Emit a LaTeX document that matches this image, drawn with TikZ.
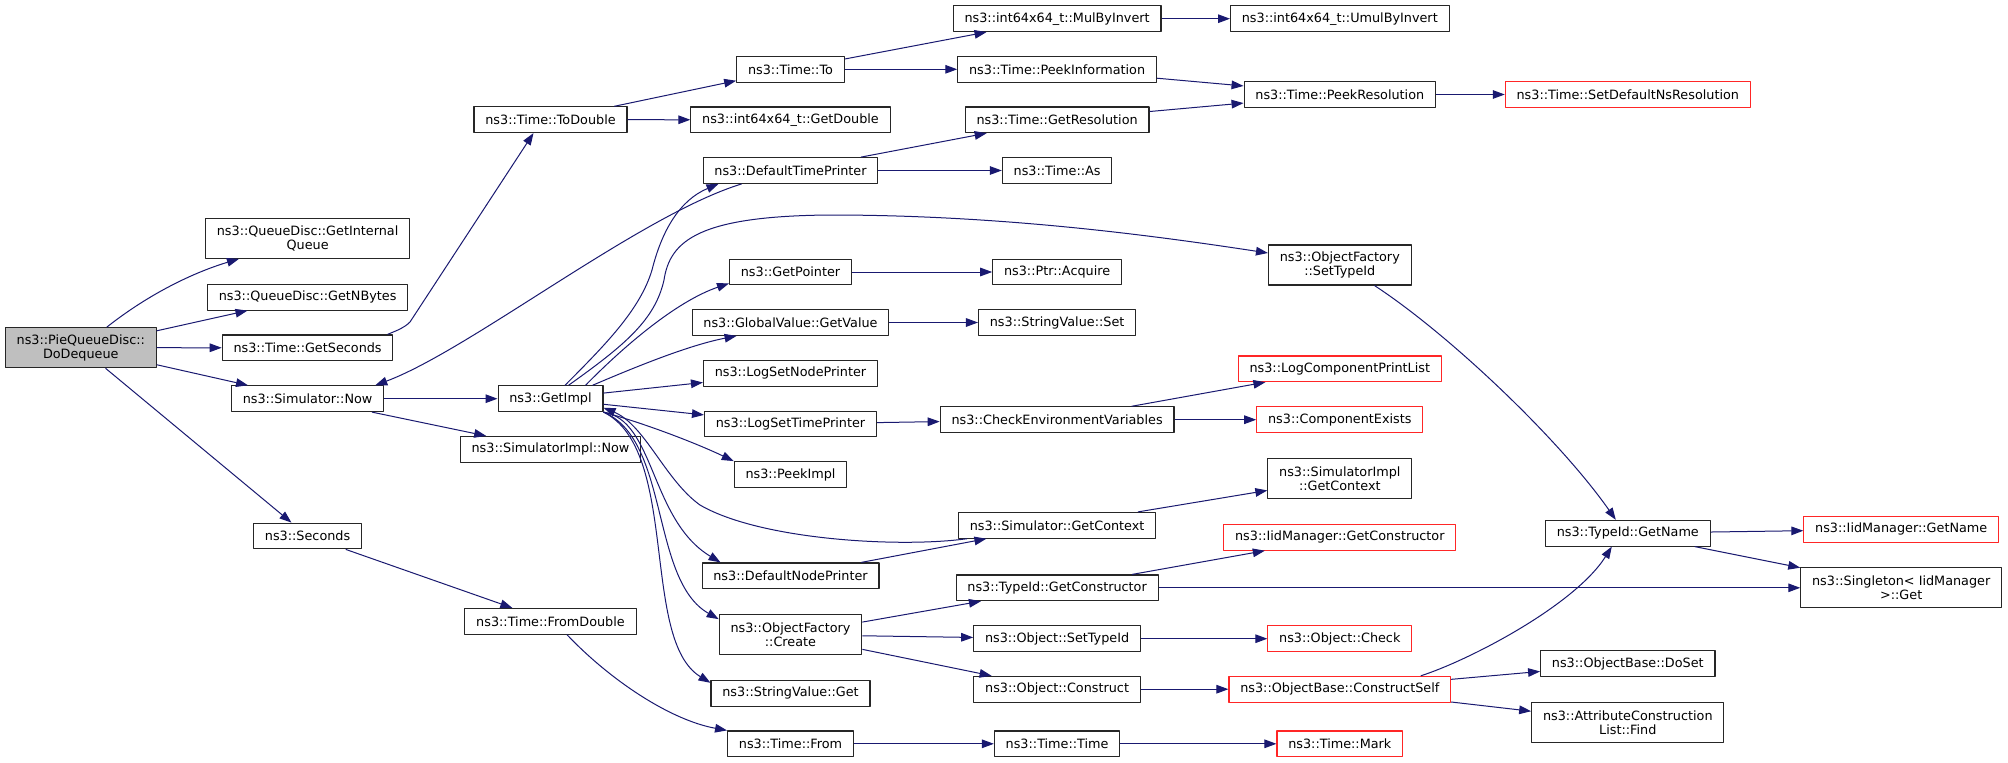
\documentclass[tikz,border=0pt]{standalone}
\usepackage{fontspec}
\setmainfont{DejaVu Sans}
\usetikzlibrary{arrows.meta}
\definecolor{callblue}{HTML}{191970}
\definecolor{truncred}{HTML}{FF2626}
\definecolor{rootgray}{HTML}{BFBFBF}

\begin{document}
\begin{tikzpicture}[
  x=1pt,
  y=-1pt,
  line join=round,
  fn/.style={draw=black!85,line width=1.1pt,fill=white,inner xsep=11.3pt,inner ysep=2pt,
    minimum height=25.7pt,align=center,font=\fontsize{12.8}{14}\selectfont},
  twoline/.style={minimum height=40pt},
  root/.style={fn,twoline,fill=rootgray},
  trunc/.style={fn,draw=truncred},
  call/.style={draw=callblue,line width=1pt,-{Triangle[length=12pt,width=8.6pt]}}
]
  \useasboundingbox[fill=white] (0,0) rectangle (2008,763);

  % Caller and first level.
  \node[root] (DoDequeue) at (80.8,347.7) {ns3::PieQueueDisc::\\DoDequeue};
  \node[fn,twoline] (GetInternalQueue) at (307.6,238.3) {ns3::QueueDisc::GetInternal\\Queue};
  \node[fn] (GetNBytes) at (307.6,297.2) {ns3::QueueDisc::GetNBytes};
  \node[fn] (GetSeconds) at (307.6,347.8) {ns3::Time::GetSeconds};
  \node[fn] (SimNow) at (307.6,398.7) {ns3::Simulator::Now};
  \node[fn] (Seconds) at (307.6,536) {ns3::Seconds};

  % Second level.
  \node[fn] (ToDouble) at (550.5,119.7) {ns3::Time::ToDouble};
  \node[fn] (GetImpl) at (550.5,398.7) {ns3::GetImpl};
  \node[fn] (SimImplNow) at (550.5,449.3) {ns3::SimulatorImpl::Now};
  \node[fn] (FromDouble) at (550.5,621.3) {ns3::Time::FromDouble};

  % Third level.
  \node[fn] (TimeTo) at (790.5,69.3) {ns3::Time::To};
  \node[fn] (GetDouble) at (790.5,119.8) {ns3::int64x64\_t::GetDouble};
  \node[fn] (DefTimePrinter) at (790.5,170.5) {ns3::DefaultTimePrinter};
  \node[fn] (GetPointer) at (790.5,272) {ns3::GetPointer};
  \node[fn] (GetValue) at (790.5,322.5) {ns3::GlobalValue::GetValue};
  \node[fn] (LogSetNodePrinter) at (790.5,373.2) {ns3::LogSetNodePrinter};
  \node[fn] (LogSetTimePrinter) at (790.5,424) {ns3::LogSetTimePrinter};
  \node[fn] (PeekImpl) at (790.5,474.5) {ns3::PeekImpl};
  \node[fn] (DefNodePrinter) at (790.5,575.8) {ns3::DefaultNodePrinter};
  \node[fn,twoline] (FactoryCreate) at (790.5,634.7) {ns3::ObjectFactory\\::Create};
  \node[fn] (StringGet) at (790.5,693.2) {ns3::StringValue::Get};
  \node[fn] (TimeFrom) at (790.5,743.8) {ns3::Time::From};

  % Fourth level.
  \node[fn] (MulByInvert) at (1057.1,18.7) {ns3::int64x64\_t::MulByInvert};
  \node[fn] (PeekInformation) at (1057.1,69.3) {ns3::Time::PeekInformation};
  \node[fn] (GetResolution) at (1057.1,119.8) {ns3::Time::GetResolution};
  \node[fn] (TimeAs) at (1057.1,170.5) {ns3::Time::As};
  \node[fn] (PtrAcquire) at (1057.1,272) {ns3::Ptr::Acquire};
  \node[fn] (StringSet) at (1057.1,322.5) {ns3::StringValue::Set};
  \node[fn] (CheckEnv) at (1057.1,419.7) {ns3::CheckEnvironmentVariables};
  \node[fn] (SimGetContext) at (1057.1,525.3) {ns3::Simulator::GetContext};
  \node[fn] (GetConstructor) at (1057.1,587.8) {ns3::TypeId::GetConstructor};
  \node[fn] (ObjSetTypeId) at (1057.1,638.7) {ns3::Object::SetTypeId};
  \node[fn] (ObjConstruct) at (1057.1,689.2) {ns3::Object::Construct};
  \node[fn] (TimeTime) at (1057.1,743.8) {ns3::Time::Time};

  % Fifth level.
  \node[fn] (UmulByInvert) at (1339.8,18.7) {ns3::int64x64\_t::UmulByInvert};
  \node[fn] (PeekResolution) at (1339.8,94.5) {ns3::Time::PeekResolution};
  \node[fn,twoline] (FactorySetTypeId) at (1339.8,265) {ns3::ObjectFactory\\::SetTypeId};
  \node[trunc] (LogCompPrintList) at (1339.8,368.8) {ns3::LogComponentPrintList};
  \node[trunc] (ComponentExists) at (1339.8,419.7) {ns3::ComponentExists};
  \node[fn,twoline] (ImplGetContext) at (1339.8,478.5) {ns3::SimulatorImpl\\::GetContext};
  \node[trunc] (IidGetConstructor) at (1339.8,537.3) {ns3::IidManager::GetConstructor};
  \node[trunc] (ObjCheck) at (1339.8,638.7) {ns3::Object::Check};
  \node[trunc] (ConstructSelf) at (1339.8,689.2) {ns3::ObjectBase::ConstructSelf};
  \node[trunc] (TimeMark) at (1339.8,743.8) {ns3::Time::Mark};

  % Last levels.
  \node[trunc] (SetDefaultNsRes) at (1627.8,94.5) {ns3::Time::SetDefaultNsResolution};
  \node[fn] (TypeIdGetName) at (1627.8,533.2) {ns3::TypeId::GetName};
  \node[fn] (DoSet) at (1627.8,663.7) {ns3::ObjectBase::DoSet};
  \node[fn,twoline] (ListFind) at (1627.8,722.3) {ns3::AttributeConstruction\\List::Find};
  \node[trunc] (IidGetName) at (1901.2,529.3) {ns3::IidManager::GetName};
  \node[fn,twoline] (SingletonGet) at (1901.2,587.8) {ns3::Singleton< IidManager\\>::Get};

  % Calls from the caller.
  \draw[call] (DoDequeue) .. controls (150,293) and (195,272) .. (GetInternalQueue);
  \draw[call] (DoDequeue) -- (GetNBytes);
  \draw[call] (DoDequeue) -- (GetSeconds);
  \draw[call] (DoDequeue) -- (SimNow);
  \draw[call] (DoDequeue) -- (Seconds);

  \draw[call] ([xshift=-6pt]GetSeconds.north east) .. controls (398,330) and (404,328) .. (410,322)
    -- ([xshift=-17pt]ToDouble.south);
  \draw[call] (SimNow) -- (GetImpl);
  \draw[call] (SimNow) -- (SimImplNow);
  \draw[call] (Seconds) -- (FromDouble);
  \draw[call] ([xshift=16.5pt]FromDouble.south) .. controls (610,680) and (670,720) .. (TimeFrom.north west);

  \draw[call] (ToDouble) -- (TimeTo);
  \draw[call] (ToDouble) -- (GetDouble);
  \draw[call] (TimeTo) -- (MulByInvert);
  \draw[call] (TimeTo) -- (PeekInformation);
  \draw[call] (MulByInvert) -- (UmulByInvert);
  \draw[call] (PeekInformation) -- (PeekResolution);
  \draw[call] (GetResolution) -- (PeekResolution);
  \draw[call] (PeekResolution) -- (SetDefaultNsRes);

  % GetImpl fans out.
  \draw[call] ([xshift=14.5pt]GetImpl.north) .. controls (605,345) and (640,310) .. (652,270)
    .. controls (662,230) and (680,200) .. ([xshift=-72pt]DefTimePrinter.south);
  \draw[call] ([xshift=18pt]GetImpl.north) .. controls (625,345) and (655,320) .. (664,280)
    .. controls (670,240) and (700,216) .. (830,215)
    .. controls (1000,215) and (1150,235) .. ([yshift=12pt]FactorySetTypeId.west);
  \draw[call] ([xshift=35pt]GetImpl.north) .. controls (630,340) and (680,300) .. ([yshift=2pt]GetPointer.south west);
  \draw[call] ([xshift=42pt]GetImpl.north) .. controls (640,365) and (690,345) .. ([xshift=45pt]GetValue.south west);
  \draw[call] (GetImpl) -- (LogSetNodePrinter);
  \draw[call] (GetImpl) -- (LogSetTimePrinter);
  \draw[call] (GetImpl.south east) .. controls (650,425) and (700,445) .. (PeekImpl.north west);
  \draw[call] (GetImpl.south east) .. controls (655,420) and (650,520) .. ([xshift=-70pt]DefNodePrinter.north);
  \draw[call] (GetImpl.south east) .. controls (670,440) and (650,580) .. ([yshift=-5pt]FactoryCreate.north west);
  \draw[call] (GetImpl.south east) .. controls (680,450) and (640,640) .. ([yshift=-3pt]StringGet.north west);

  % Back edges.
  \draw[call] ([xshift=-48.8pt]DefTimePrinter.south) .. controls (640,215) and (470,350) .. ([xshift=-9pt]SimNow.north east);
  \draw[call] ([xshift=-90pt]SimGetContext.south) .. controls (900,548) and (760,540) .. (700,505)
    .. controls (665,480) and (645,425) .. ([yshift=-9pt]GetImpl.east);

  \draw[call] (DefTimePrinter) -- (GetResolution);
  \draw[call] (DefTimePrinter) -- (TimeAs);
  \draw[call] (GetPointer) -- (PtrAcquire);
  \draw[call] (GetValue) -- (StringSet);
  \draw[call] (LogSetTimePrinter) -- (CheckEnv);
  \draw[call] (CheckEnv) -- (LogCompPrintList);
  \draw[call] (CheckEnv) -- (ComponentExists);
  \draw[call] (DefNodePrinter) -- (SimGetContext);
  \draw[call] (SimGetContext) -- (ImplGetContext);
  \draw[call] (FactoryCreate) -- (GetConstructor);
  \draw[call] (FactoryCreate) -- (ObjSetTypeId);
  \draw[call] (FactoryCreate) -- (ObjConstruct);
  \draw[call] (GetConstructor) -- (IidGetConstructor);
  \draw[call] (GetConstructor) -- (SingletonGet);
  \draw[call] (ObjSetTypeId) -- (ObjCheck);
  \draw[call] (ObjConstruct) -- (ConstructSelf);
  \draw[call] (TimeFrom) -- (TimeTime);
  \draw[call] (TimeTime) -- (TimeMark);

  \draw[call] ([xshift=34.7pt]FactorySetTypeId.south) .. controls (1450,335) and (1560,440) .. ([xshift=-12pt]TypeIdGetName.north);
  \draw[call] ([xshift=81pt]ConstructSelf.north) .. controls (1470,660) and (1575,605) .. ([xshift=-16pt]TypeIdGetName.south);
  \draw[call] (ConstructSelf) -- (DoSet);
  \draw[call] (ConstructSelf) -- (ListFind);
  \draw[call] (TypeIdGetName) -- (IidGetName);
  \draw[call] (TypeIdGetName) -- (SingletonGet);
\end{tikzpicture}
\end{document}
